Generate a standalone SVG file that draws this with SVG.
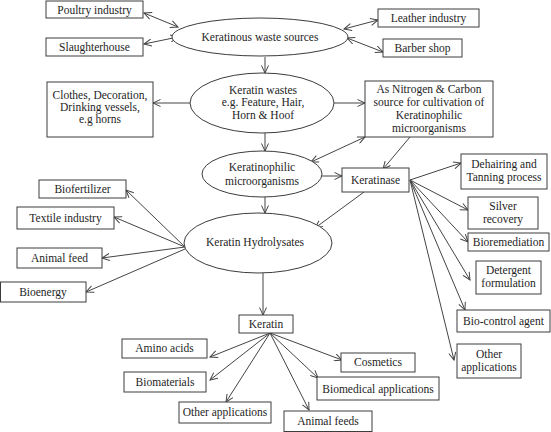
<svg xmlns="http://www.w3.org/2000/svg" width="551" height="432" viewBox="0 0 551 432">
<defs>
<style>
.b{fill:#fff;stroke:#3c3c3c;stroke-width:1}
.e{fill:#fff;stroke:#3c3c3c;stroke-width:1}
text{font-family:"Liberation Serif","Times New Roman",serif;font-size:11.5px;fill:#1e1e1e;text-anchor:middle}
.c line{stroke:#444;stroke-width:1;marker-end:url(#a)}
.c line.d{marker-start:url(#a)}
</style>
<marker id="a" markerWidth="9" markerHeight="8" refX="8" refY="4" orient="auto-start-reverse" markerUnits="userSpaceOnUse"><path d="M0.5,0.5 L8,4 L0.5,7.5" fill="none" stroke="#444" stroke-width="1"/></marker>
</defs>
<rect width="551" height="432" fill="#fff"/>
<g class="c" id="connectors">
<line class="d" x1="144" y1="13" x2="178" y2="27"/>
<line class="d" x1="144" y1="44" x2="178" y2="37"/>
<line class="d" x1="344" y1="29" x2="378" y2="20"/>
<line class="d" x1="347" y1="38" x2="383" y2="52"/>
<line x1="265" y1="57" x2="265" y2="73"/>
<line x1="190" y1="103" x2="153" y2="103"/>
<line x1="334" y1="103" x2="365" y2="103"/>
<line x1="265" y1="133" x2="265" y2="151"/>
<line class="d" x1="311" y1="162" x2="365" y2="137"/>
<line x1="410" y1="137" x2="383" y2="169"/>
<line x1="322" y1="176" x2="342" y2="176"/>
<line x1="265" y1="197" x2="265" y2="213"/>
<line x1="364" y1="192" x2="315" y2="228"/>
<line x1="185" y1="247" x2="126" y2="190"/>
<line x1="185" y1="247" x2="114" y2="217"/>
<line x1="185" y1="247" x2="102" y2="258"/>
<line x1="185" y1="249" x2="86" y2="292"/>
<line x1="263" y1="273" x2="263" y2="315"/>
<line x1="410" y1="180" x2="461" y2="163"/>
<line x1="410" y1="180" x2="468" y2="210"/>
<line x1="410" y1="180" x2="468" y2="242"/>
<line x1="410" y1="180" x2="470" y2="280"/>
<line x1="410" y1="180" x2="465" y2="310"/>
<line x1="410" y1="180" x2="454" y2="360"/>
<line x1="270" y1="333" x2="210" y2="357"/>
<line x1="270" y1="333" x2="210" y2="380"/>
<line x1="270" y1="333" x2="226" y2="402"/>
<line x1="270" y1="333" x2="309" y2="410"/>
<line x1="270" y1="333" x2="318" y2="378"/>
<line x1="270" y1="333" x2="342" y2="360"/>
</g>
<g id="poultry"><rect class="b" x="46" y="1" width="97" height="17"/><text x="94.5" y="13.5">Poultry industry</text></g>
<g id="slaughterhouse"><rect class="b" x="46" y="38" width="97" height="18"/><text x="94.5" y="51">Slaughterhouse</text></g>
<g id="keratinous"><ellipse class="e" cx="260" cy="37" rx="88" ry="19"/><text x="260" y="41">Keratinous waste sources</text></g>
<g id="leather"><rect class="b" x="378" y="9" width="101" height="18"/><text x="428.5" y="22">Leather industry</text></g>
<g id="barber"><rect class="b" x="383" y="39" width="79" height="18"/><text x="422.5" y="52">Barber shop</text></g>
<g id="wastes"><ellipse class="e" cx="262" cy="103" rx="72" ry="30"/><text x="263" y="94">Keratin wastes</text><text x="263" y="106">e.g. Feature, Hair,</text><text x="263" y="119">Horn &amp; Hoof</text></g>
<g id="clothes"><rect class="b" x="47" y="82" width="106" height="55"/><text x="100" y="99">Clothes, Decoration,</text><text x="100" y="111">Drinking vessels,</text><text x="100" y="123">e.g horns</text></g>
<g id="nitrogen"><rect class="b" x="365" y="81" width="128" height="56"/><text x="429" y="93">As Nitrogen &amp; Carbon</text><text x="429" y="106">source for cultivation of</text><text x="429" y="119">Keratinophilic</text><text x="429" y="132">microorganisms</text></g>
<g id="keratinophilic"><ellipse class="e" cx="262" cy="174" rx="60" ry="23"/><text x="262" y="171">Keratinophilic</text><text x="262" y="185">microorganisms</text></g>
<g id="keratinase"><rect class="b" x="342" y="168" width="67" height="24"/><text x="375.5" y="184">Keratinase</text></g>
<g id="hydrolysates"><ellipse class="e" cx="258" cy="243" rx="74" ry="30"/><text x="255" y="246">Keratin Hydrolysates</text></g>
<g id="biofertilizer"><rect class="b" x="39" y="180" width="87" height="18"/><text x="82.5" y="193">Biofertilizer</text></g>
<g id="textile"><rect class="b" x="17" y="207" width="97" height="22"/><text x="65.5" y="222">Textile industry</text></g>
<g id="animalfeed"><rect class="b" x="17" y="248" width="85" height="20"/><text x="59.5" y="262">Animal feed</text></g>
<g id="bioenergy"><rect class="b" x="0.5" y="282" width="85.5" height="20"/><text x="43" y="296">Bioenergy</text></g>
<g id="dehairing"><rect class="b" x="461" y="154" width="86" height="35"/><text x="504" y="168">Dehairing and</text><text x="504" y="181">Tanning process</text></g>
<g id="silver"><rect class="b" x="468" y="197" width="70" height="32"/><text x="503" y="210">Silver</text><text x="503" y="223">recovery</text></g>
<g id="bioremediation"><rect class="b" x="468" y="233" width="81" height="18"/><text x="508.5" y="246">Bioremediation</text></g>
<g id="detergent"><rect class="b" x="476" y="261" width="65" height="33"/><text x="508.5" y="274">Detergent</text><text x="508.5" y="287">formulation</text></g>
<g id="biocontrol"><rect class="b" x="457" y="310" width="93" height="22"/><text x="503.5" y="325">Bio-control agent</text></g>
<g id="otherapps1"><rect class="b" x="457" y="344" width="64" height="34"/><text x="489" y="358">Other</text><text x="489" y="371">applications</text></g>
<g id="keratin"><rect class="b" x="239" y="315" width="54" height="18"/><text x="266" y="328">Keratin</text></g>
<g id="amino"><rect class="b" x="122" y="339" width="85" height="19"/><text x="164.5" y="352">Amino acids</text></g>
<g id="biomaterials"><rect class="b" x="124" y="372" width="82" height="20"/><text x="165" y="386">Biomaterials</text></g>
<g id="otherapps2"><rect class="b" x="179" y="402" width="92" height="21"/><text x="225" y="416">Other applications</text></g>
<g id="animalfeeds"><rect class="b" x="284" y="411" width="88" height="20.5"/><text x="328" y="425">Animal feeds</text></g>
<g id="biomedical"><rect class="b" x="317" y="377" width="122" height="23"/><text x="378" y="393">Biomedical applications</text></g>
<g id="cosmetics"><rect class="b" x="341" y="353" width="74" height="19"/><text x="378" y="366">Cosmetics</text></g>
</svg>
